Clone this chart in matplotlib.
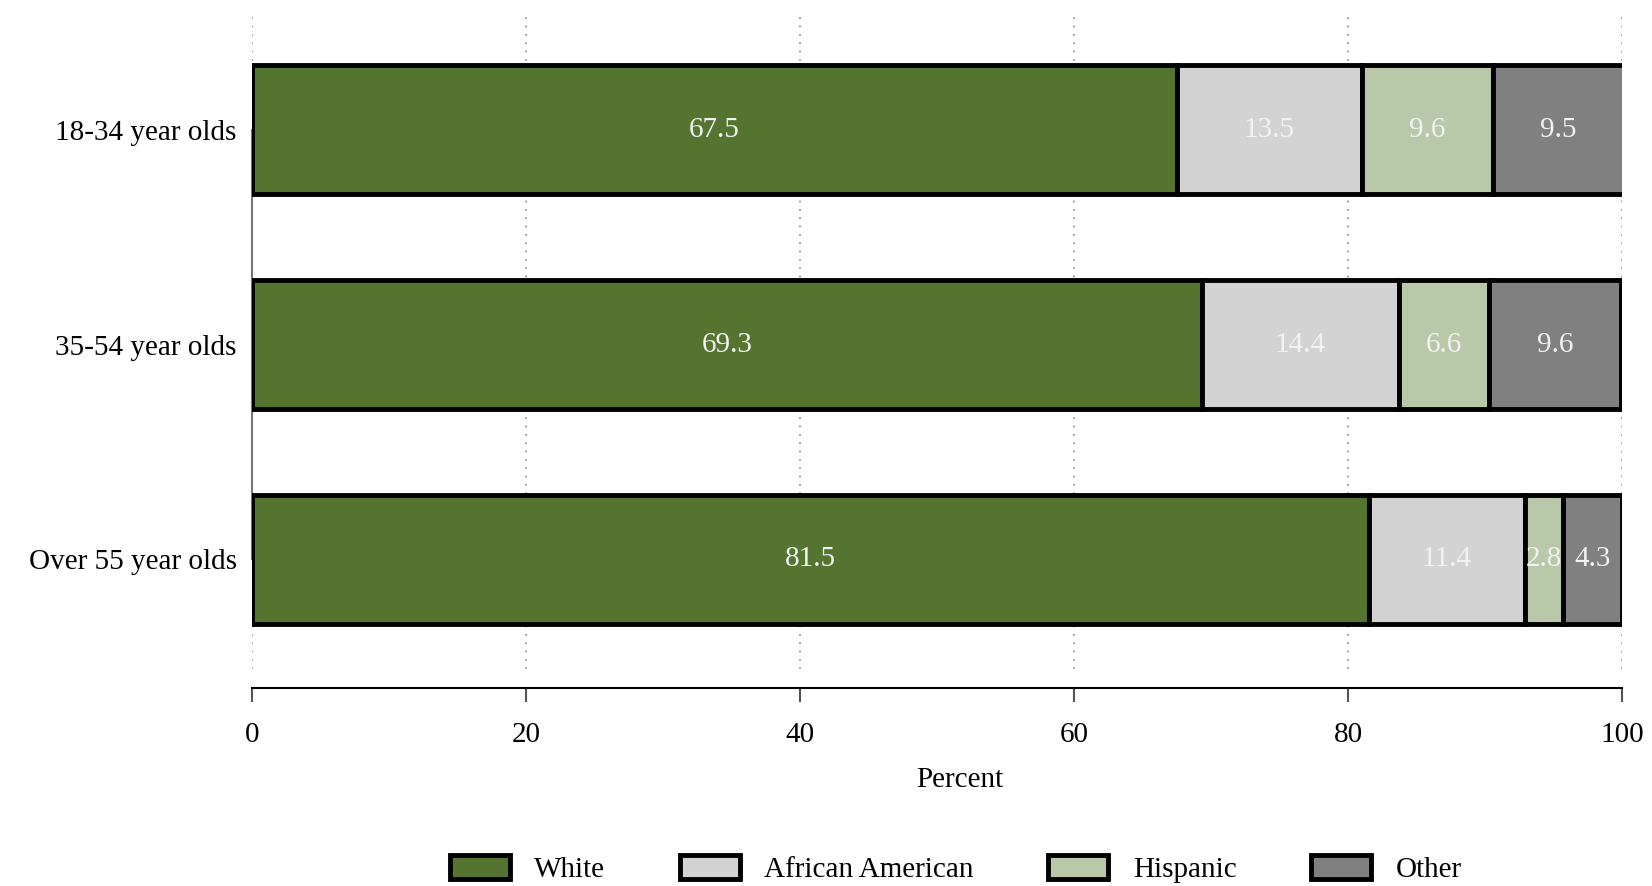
import numpy as np
import matplotlib
matplotlib.use("Agg")
import matplotlib.pyplot as plt
from matplotlib.patches import Patch

plt.rcParams['font.family'] = ['Liberation Serif', 'DejaVu Serif']

groups = ["Over 55 year olds", "35-54 year olds", "18-34 year olds"]
white = [81.5, 69.3, 67.5]
african_american = [11.4, 14.4, 13.5]
hispanic = [2.8, 6.6, 9.6]
other = [4.3, 9.6, 9.5]

series = ["White", "African American", "Hispanic", "Other"]
colors = ["#557430", "#d3d3d3", "#bac8aa", "#808080"]
xticks = [0, 20, 40, 60, 80, 100]

fig = plt.figure(figsize=(16.52, 8.86), dpi=100)
ax = fig.add_axes([0.1525, 0.245, 0.8295, 0.7425])

y = np.arange(len(groups))
left = np.zeros(len(groups))
for name, vals, c in zip(series, [white, african_american, hispanic, other], colors):
    vals = np.array(vals)
    ax.barh(y, vals, left=left, height=0.6, color=c, edgecolor="black",
            linewidth=3.5, zorder=3)
    for yi, l, v in zip(y, left, vals):
        ax.text(l + v / 2, yi, f"{v:.1f}", ha="center", va="center",
                color="#f2f2f2", fontsize=21, zorder=4)
    left += vals

for s in ["top", "right"]:
    ax.spines[s].set_visible(False)
ax.spines["bottom"].set_position(("outward", 14))
ax.spines["bottom"].set_linewidth(1.5)
ax.spines["left"].set_bounds(0, 2)
ax.spines["left"].set_color("#777777")
ax.spines["left"].set_linewidth(1.5)

ax.set_xlim(0, 100)
ax.set_ylim(-0.51, 2.552)
ax.set_yticks(y)
ax.set_yticklabels(groups)
ax.set_xticks(xticks)
ax.set_xticklabels([str(t) for t in xticks])
ax.set_xlabel("Percent", fontsize=21)
ax.xaxis.set_label_coords(0.5165, -0.149)

ax.xaxis.grid(True, linestyle=(0, (1, 4)), color="#888888", linewidth=1.2, zorder=0)
ax.tick_params(axis="y", length=0, pad=11, labelsize=21)
ax.tick_params(axis="x", length=10, width=1.5, color="#555555", pad=14, labelsize=21)

handles = [Patch(facecolor=c, edgecolor="black", linewidth=3.5, label=s)
           for s, c in zip(series, colors)]
fig.legend(handles=handles, loc="center", bbox_to_anchor=(0.5785, 0.019),
           ncol=4, frameon=False, fontsize=21, handlelength=2.05,
           handleheight=0.85, columnspacing=2.55, handletextpad=0.85)

fig.savefig("out.png", dpi=100)
